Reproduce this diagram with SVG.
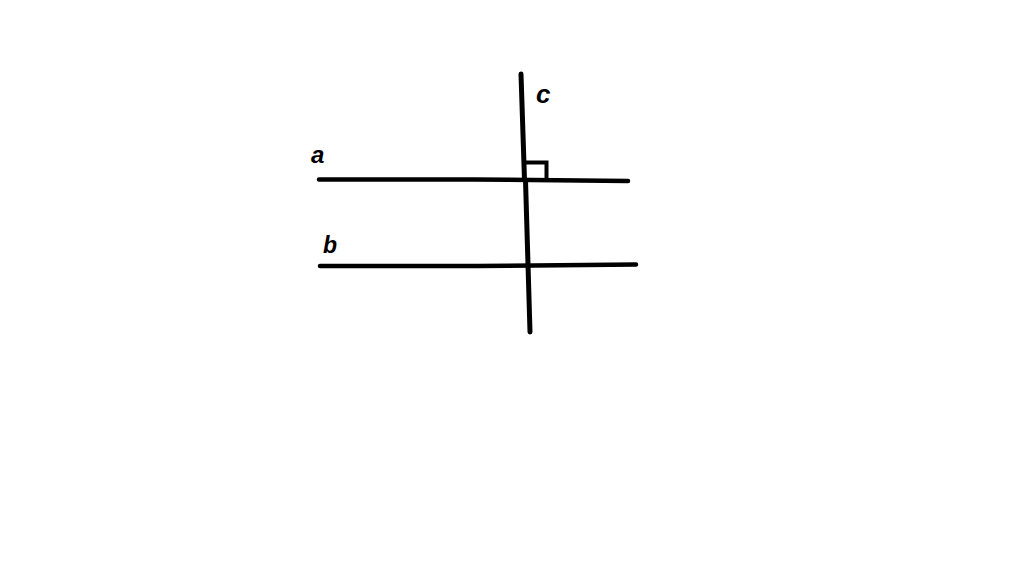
<svg xmlns="http://www.w3.org/2000/svg" width="1024" height="576" viewBox="0 0 1024 576">
<style>
.ln{stroke:#000;stroke-width:4.5;stroke-linecap:round;fill:none}
.lbl{font-family:"Liberation Sans",Arial,sans-serif;font-weight:bold;font-style:italic;fill:#000}
</style>
<rect width="1024" height="576" fill="#fff"/>
<g id="connectors">
<g id="line-a"><path class="ln" d="M319 179.5 L474 179.5 L628 181"/></g>
<g id="line-b"><path class="ln" d="M320 266 L477 266 L636 264.5"/></g>
<g id="line-c"><path class="ln" d="M521 74 L524.5 180 M525.5 180 L530 332" style="stroke-width:5"/></g>
</g>
<g id="right-angle"><path d="M526 162.5 H546.5 V179" fill="none" stroke="#000" stroke-width="4"/></g>
<g id="label-a"><text class="lbl" x="311" y="163" font-size="24">a</text></g>
<g id="label-b"><text class="lbl" x="323" y="252.5" font-size="23">b</text></g>
<g id="label-c"><text class="lbl" x="536" y="103" font-size="26">c</text></g>
</svg>
